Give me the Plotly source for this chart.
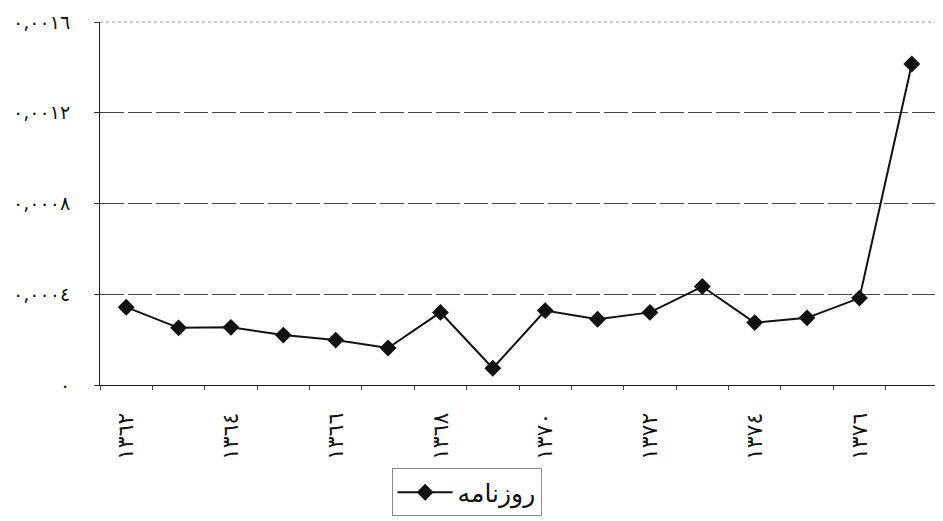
import plotly.graph_objects as go

years = [1362, 1363, 1364, 1365, 1366, 1367, 1368, 1369,
         1370, 1371, 1372, 1373, 1374, 1375, 1376, 1377]
values = [0.000343, 0.000252, 0.000254, 0.000220, 0.000198, 0.000163,
          0.000320, 0.000074, 0.000328, 0.000290, 0.000320, 0.000434,
          0.000275, 0.000296, 0.000383, 0.001415]
series_name = "روزنامه"

x_tickvals = [1362, 1364, 1366, 1368, 1370, 1372, 1374, 1376]
x_ticktext = ["١٣٦٢", "١٣٦٤", "١٣٦٦", "١٣٦٨", "١٣٧٠", "١٣٧٢", "١٣٧٤", "١٣٧٦"]
y_tickvals = [0, 0.0004, 0.0008, 0.0012, 0.0016]
y_ticktext = ["٠", "٠,٠٠٠٤", "٠,٠٠٠٨", "٠,٠٠١٢", "٠,٠٠١٦"]

fig = go.Figure()
fig.add_trace(go.Scatter(
    x=years, y=values, name=series_name, mode="lines+markers",
    line=dict(color="#111111", width=2),
    marker=dict(symbol="diamond", size=13, color="#111111"),
))

font = "DejaVu Sans"
# the page has an 8px body margin, so the figure is 8px smaller and shifted
fig.update_layout(
    width=935, height=513,
    margin=dict(l=92, r=5, t=14, b=133),
    paper_bgcolor="white", plot_bgcolor="white",
    showlegend=True,
    legend=dict(
        x=0.348, xanchor="left", y=-0.23, yanchor="top",
        bordercolor="#888888", borderwidth=1,
        font=dict(family=font, size=25, color="#111111"),
        itemwidth=55,
    ),
    xaxis=dict(
        range=[1361.5, 1377.5], tickmode="array",
        tickvals=x_tickvals, ticktext=x_ticktext, tickangle=-90,
        ticks="", ticklabelstandoff=18, automargin=False,
        minor=dict(ticks="outside", ticklen=4, tick0=1361.5, dtick=1,
                   tickcolor="#444444", showgrid=False),
        showgrid=False, zeroline=False,
        showline=True, linecolor="#222222", linewidth=1,
        tickfont=dict(family=font, size=22, color="#111111"),
    ),
    yaxis=dict(
        range=[0, 0.0016], tickmode="array",
        tickvals=y_tickvals, ticktext=y_ticktext,
        ticks="outside", ticklen=5, tickcolor="#333333",
        ticklabelstandoff=20, automargin=False, ticklabeloverflow="allow",
        showgrid=True, gridcolor="#444444", gridwidth=1, griddash="24px,4px",
        zeroline=False,
        showline=True, linecolor="#222222", linewidth=1,
        tickfont=dict(family=font, size=19, color="#111111"),
    ),
    shapes=[
        dict(type="line", xref="paper", yref="paper", x0=0, x1=1, y0=1, y1=1,
             line=dict(color="#999999", width=1, dash="dot")),
        dict(type="line", xref="paper", yref="paper", x0=1, x1=1, y0=0, y1=1,
             line=dict(color="#999999", width=1, dash="dot")),
    ],
)

fig.write_html("out.html")
